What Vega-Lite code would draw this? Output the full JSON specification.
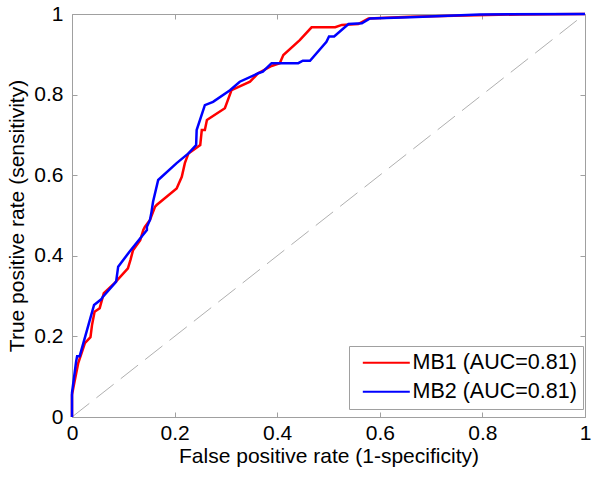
{
  "$schema": "https://vega.github.io/schema/vega-lite/v6.json",
  "width": 513,
  "height": 403,
  "autosize": {"type": "none"},
  "padding": {"left": 72, "top": 14, "right": 15, "bottom": 60},
  "background": "white",
  "config": {
    "font": "Liberation Sans",
    "view": {"stroke": "#a0a0a0", "strokeWidth": 1},
    "axis": {
      "grid": false,
      "domain": false,
      "tickColor": "#a0a0a0",
      "tickSize": -5,
      "labelFlush": false,
      "labelFont": "Liberation Sans",
      "labelFontSize": 21,
      "labelColor": "black",
      "titleFont": "Liberation Sans",
      "titleFontSize": 21,
      "titleFontWeight": "normal",
      "titleColor": "black"
    }
  },
  "datasets": {
    "roc": [
      {"model": "MB1 (AUC=0.81)", "i": 0, "fpr": 0, "tpr": 0},
      {"model": "MB1 (AUC=0.81)", "i": 1, "fpr": 0, "tpr": 0.055},
      {"model": "MB1 (AUC=0.81)", "i": 2, "fpr": 0.005, "tpr": 0.088},
      {"model": "MB1 (AUC=0.81)", "i": 3, "fpr": 0.012, "tpr": 0.133},
      {"model": "MB1 (AUC=0.81)", "i": 4, "fpr": 0.025, "tpr": 0.183},
      {"model": "MB1 (AUC=0.81)", "i": 5, "fpr": 0.036, "tpr": 0.198},
      {"model": "MB1 (AUC=0.81)", "i": 6, "fpr": 0.039, "tpr": 0.228},
      {"model": "MB1 (AUC=0.81)", "i": 7, "fpr": 0.044, "tpr": 0.261},
      {"model": "MB1 (AUC=0.81)", "i": 8, "fpr": 0.054, "tpr": 0.270},
      {"model": "MB1 (AUC=0.81)", "i": 9, "fpr": 0.062, "tpr": 0.307},
      {"model": "MB1 (AUC=0.81)", "i": 10, "fpr": 0.083, "tpr": 0.332},
      {"model": "MB1 (AUC=0.81)", "i": 11, "fpr": 0.109, "tpr": 0.369},
      {"model": "MB1 (AUC=0.81)", "i": 12, "fpr": 0.114, "tpr": 0.390},
      {"model": "MB1 (AUC=0.81)", "i": 13, "fpr": 0.119, "tpr": 0.414},
      {"model": "MB1 (AUC=0.81)", "i": 14, "fpr": 0.133, "tpr": 0.439},
      {"model": "MB1 (AUC=0.81)", "i": 15, "fpr": 0.139, "tpr": 0.464},
      {"model": "MB1 (AUC=0.81)", "i": 16, "fpr": 0.142, "tpr": 0.472},
      {"model": "MB1 (AUC=0.81)", "i": 17, "fpr": 0.152, "tpr": 0.489},
      {"model": "MB1 (AUC=0.81)", "i": 18, "fpr": 0.162, "tpr": 0.522},
      {"model": "MB1 (AUC=0.81)", "i": 19, "fpr": 0.165, "tpr": 0.526},
      {"model": "MB1 (AUC=0.81)", "i": 20, "fpr": 0.204, "tpr": 0.567},
      {"model": "MB1 (AUC=0.81)", "i": 21, "fpr": 0.214, "tpr": 0.596},
      {"model": "MB1 (AUC=0.81)", "i": 22, "fpr": 0.220, "tpr": 0.630},
      {"model": "MB1 (AUC=0.81)", "i": 23, "fpr": 0.227, "tpr": 0.654},
      {"model": "MB1 (AUC=0.81)", "i": 24, "fpr": 0.250, "tpr": 0.675},
      {"model": "MB1 (AUC=0.81)", "i": 25, "fpr": 0.253, "tpr": 0.712},
      {"model": "MB1 (AUC=0.81)", "i": 26, "fpr": 0.259, "tpr": 0.712},
      {"model": "MB1 (AUC=0.81)", "i": 27, "fpr": 0.263, "tpr": 0.737},
      {"model": "MB1 (AUC=0.81)", "i": 28, "fpr": 0.298, "tpr": 0.766},
      {"model": "MB1 (AUC=0.81)", "i": 29, "fpr": 0.311, "tpr": 0.811},
      {"model": "MB1 (AUC=0.81)", "i": 30, "fpr": 0.347, "tpr": 0.832},
      {"model": "MB1 (AUC=0.81)", "i": 31, "fpr": 0.363, "tpr": 0.853},
      {"model": "MB1 (AUC=0.81)", "i": 32, "fpr": 0.389, "tpr": 0.871},
      {"model": "MB1 (AUC=0.81)", "i": 33, "fpr": 0.405, "tpr": 0.878},
      {"model": "MB1 (AUC=0.81)", "i": 34, "fpr": 0.412, "tpr": 0.898},
      {"model": "MB1 (AUC=0.81)", "i": 35, "fpr": 0.444, "tpr": 0.935},
      {"model": "MB1 (AUC=0.81)", "i": 36, "fpr": 0.467, "tpr": 0.967},
      {"model": "MB1 (AUC=0.81)", "i": 37, "fpr": 0.513, "tpr": 0.967},
      {"model": "MB1 (AUC=0.81)", "i": 38, "fpr": 0.526, "tpr": 0.973},
      {"model": "MB1 (AUC=0.81)", "i": 39, "fpr": 0.558, "tpr": 0.975},
      {"model": "MB1 (AUC=0.81)", "i": 40, "fpr": 0.578, "tpr": 0.989},
      {"model": "MB1 (AUC=0.81)", "i": 41, "fpr": 0.659, "tpr": 0.993},
      {"model": "MB1 (AUC=0.81)", "i": 42, "fpr": 0.873, "tpr": 0.999},
      {"model": "MB1 (AUC=0.81)", "i": 43, "fpr": 1, "tpr": 1},
      {"model": "MB2 (AUC=0.81)", "i": 0, "fpr": 0, "tpr": 0},
      {"model": "MB2 (AUC=0.81)", "i": 1, "fpr": 0, "tpr": 0.06},
      {"model": "MB2 (AUC=0.81)", "i": 2, "fpr": 0.008, "tpr": 0.137},
      {"model": "MB2 (AUC=0.81)", "i": 3, "fpr": 0.010, "tpr": 0.151},
      {"model": "MB2 (AUC=0.81)", "i": 4, "fpr": 0.015, "tpr": 0.151},
      {"model": "MB2 (AUC=0.81)", "i": 5, "fpr": 0.043, "tpr": 0.278},
      {"model": "MB2 (AUC=0.81)", "i": 6, "fpr": 0.057, "tpr": 0.292},
      {"model": "MB2 (AUC=0.81)", "i": 7, "fpr": 0.060, "tpr": 0.298},
      {"model": "MB2 (AUC=0.81)", "i": 8, "fpr": 0.086, "tpr": 0.336},
      {"model": "MB2 (AUC=0.81)", "i": 9, "fpr": 0.090, "tpr": 0.373},
      {"model": "MB2 (AUC=0.81)", "i": 10, "fpr": 0.112, "tpr": 0.410},
      {"model": "MB2 (AUC=0.81)", "i": 11, "fpr": 0.146, "tpr": 0.464},
      {"model": "MB2 (AUC=0.81)", "i": 12, "fpr": 0.146, "tpr": 0.472},
      {"model": "MB2 (AUC=0.81)", "i": 13, "fpr": 0.152, "tpr": 0.489},
      {"model": "MB2 (AUC=0.81)", "i": 14, "fpr": 0.155, "tpr": 0.509},
      {"model": "MB2 (AUC=0.81)", "i": 15, "fpr": 0.158, "tpr": 0.534},
      {"model": "MB2 (AUC=0.81)", "i": 16, "fpr": 0.168, "tpr": 0.588},
      {"model": "MB2 (AUC=0.81)", "i": 17, "fpr": 0.204, "tpr": 0.630},
      {"model": "MB2 (AUC=0.81)", "i": 18, "fpr": 0.227, "tpr": 0.654},
      {"model": "MB2 (AUC=0.81)", "i": 19, "fpr": 0.242, "tpr": 0.675},
      {"model": "MB2 (AUC=0.81)", "i": 20, "fpr": 0.243, "tpr": 0.712},
      {"model": "MB2 (AUC=0.81)", "i": 21, "fpr": 0.259, "tpr": 0.774},
      {"model": "MB2 (AUC=0.81)", "i": 22, "fpr": 0.275, "tpr": 0.782},
      {"model": "MB2 (AUC=0.81)", "i": 23, "fpr": 0.308, "tpr": 0.811},
      {"model": "MB2 (AUC=0.81)", "i": 24, "fpr": 0.327, "tpr": 0.832},
      {"model": "MB2 (AUC=0.81)", "i": 25, "fpr": 0.363, "tpr": 0.853},
      {"model": "MB2 (AUC=0.81)", "i": 26, "fpr": 0.372, "tpr": 0.857},
      {"model": "MB2 (AUC=0.81)", "i": 27, "fpr": 0.389, "tpr": 0.878},
      {"model": "MB2 (AUC=0.81)", "i": 28, "fpr": 0.441, "tpr": 0.878},
      {"model": "MB2 (AUC=0.81)", "i": 29, "fpr": 0.450, "tpr": 0.884},
      {"model": "MB2 (AUC=0.81)", "i": 30, "fpr": 0.464, "tpr": 0.884},
      {"model": "MB2 (AUC=0.81)", "i": 31, "fpr": 0.496, "tpr": 0.931},
      {"model": "MB2 (AUC=0.81)", "i": 32, "fpr": 0.501, "tpr": 0.944},
      {"model": "MB2 (AUC=0.81)", "i": 33, "fpr": 0.511, "tpr": 0.944},
      {"model": "MB2 (AUC=0.81)", "i": 34, "fpr": 0.539, "tpr": 0.975},
      {"model": "MB2 (AUC=0.81)", "i": 35, "fpr": 0.565, "tpr": 0.977},
      {"model": "MB2 (AUC=0.81)", "i": 36, "fpr": 0.581, "tpr": 0.989},
      {"model": "MB2 (AUC=0.81)", "i": 37, "fpr": 0.659, "tpr": 0.992},
      {"model": "MB2 (AUC=0.81)", "i": 38, "fpr": 0.795, "tpr": 0.999},
      {"model": "MB2 (AUC=0.81)", "i": 39, "fpr": 1, "tpr": 1}
    ],
    "diag": [
      {"fpr": 0, "tpr": 0},
      {"fpr": 1, "tpr": 1}
    ]
  },
  "layer": [
    {
      "data": {"name": "diag"},
      "mark": {"type": "line", "color": "#b0b0b0", "strokeWidth": 1, "strokeDash": [22, 9]},
      "encoding": {
        "x": {"field": "fpr", "type": "quantitative", "scale": {"domain": [0, 1], "nice": false},
          "axis": {"orient": "top", "labels": false, "title": null, "values": [0, 0.2, 0.4, 0.6, 0.8, 1]}},
        "y": {"field": "tpr", "type": "quantitative", "scale": {"domain": [0, 1], "nice": false},
          "axis": {"orient": "right", "labels": false, "title": null, "values": [0, 0.2, 0.4, 0.6, 0.8, 1]}}
      }
    },
    {
      "data": {"name": "roc"},
      "mark": {"type": "line", "strokeWidth": 2.5},
      "encoding": {
        "x": {"field": "fpr", "type": "quantitative",
          "axis": {"orient": "bottom", "title": "False positive rate (1-specificity)", "values": [0, 0.2, 0.4, 0.6, 0.8, 1], "format": "~g", "labelPadding": 10, "titlePadding": 2}},
        "y": {"field": "tpr", "type": "quantitative",
          "axis": {"orient": "left", "title": "True positive rate (sensitivity)", "values": [0, 0.2, 0.4, 0.6, 0.8, 1], "format": "~g", "labelPadding": 14, "titlePadding": 6}},
        "color": {"field": "model", "type": "nominal",
          "scale": {"domain": ["MB1 (AUC=0.81)", "MB2 (AUC=0.81)"], "range": ["#ff0000", "#0000ff"]},
          "legend": {
            "title": null,
            "orient": "none",
            "legendX": 277,
            "legendY": 332,
            "strokeColor": "#a0a0a0",
            "fillColor": "white",
            "cornerRadius": 0,
            "padding": 6,
            "symbolType": "M-0.5,0H7.5",
            "symbolSize": 138,
            "symbolStrokeWidth": 2,
            "labelFontSize": 21.5,
            "labelFont": "Liberation Sans",
            "labelColor": "black",
            "labelLimit": 400,
            "labelOffset": 36,
            "rowPadding": 6
          }},
        "order": {"field": "i", "type": "quantitative"}
      }
    }
  ],
  "resolve": {"axis": {"x": "independent", "y": "independent"}}
}
